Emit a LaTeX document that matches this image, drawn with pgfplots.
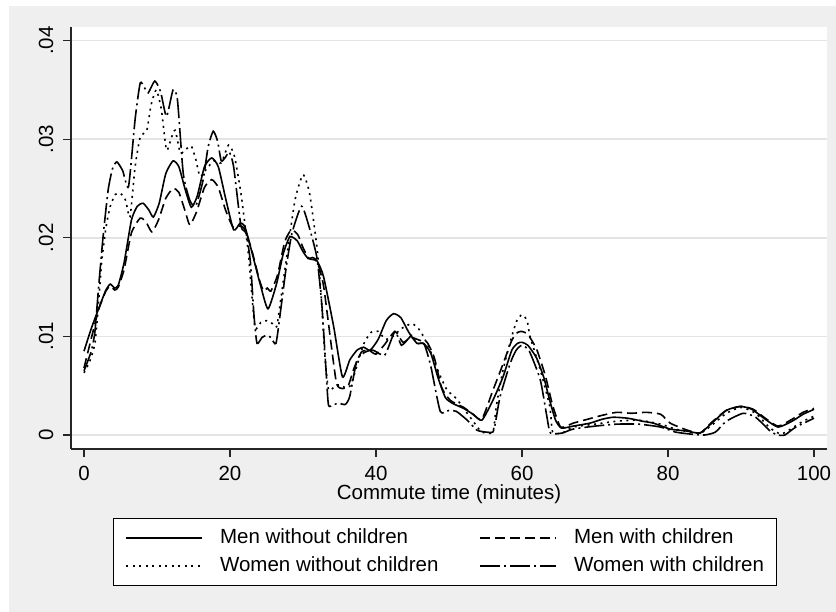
\documentclass[border=0pt]{standalone}
\usepackage{fontspec}
\setmainfont{Liberation Sans}
\usepackage{pgfplots}
\usepackage{pgfplotstable}
\pgfplotsset{compat=1.18}
\definecolor{bggray}{RGB}{239,239,239}
\definecolor{gridgray}{RGB}{228,228,228}

\pgfplotstableread{
x y
0 .0085
1 .0108
2 .0128
3 .0147
3.6 .0153
4.2 .0149
4.7 .0152
5.5 .0175
6.5 .0218
7.3 .0232
8.1 .0235
8.9 .0228
9.5 .0221
10.3 .0235
11.2 .0265
12.2 .0278
13.0 .0272
13.9 .0248
14.7 .0231
15.5 .0242
16.5 .0272
17.5 .0281
18.4 .0272
19.4 .0240
20.5 .0208
21.4 .0215
22.0 .0212
22.7 .0194
24.1 .0154
25.2 .0128
26.4 .0154
27.3 .0184
28.2 .0201
29.2 .0197
30.0 .0186
30.7 .0179
31.3 .0180
31.9 .0177
32.8 .0161
34.2 .0110
35.4 .0059
36.4 .0076
37.4 .0086
38.3 .0089
39.2 .0086
40.3 .0097
41.4 .0116
42.4 .0123
43.4 .0119
44.5 .0104
45.6 .0093
46.5 .0093
47.5 .0083
48.5 .0058
49.5 .0038
50.5 .0032
52.0 .0027
53.3 .0021
54.5 .0015
56.0 .0035
57.4 .0059
58.6 .0086
59.4 .0093
60.0 .0094
60.8 .0091
62.0 .0078
63.0 .0058
63.8 .0035
64.6 .0015
65.4 .0007
67.0 .0009
69.3 .0012
71.0 .0016
72.5 .0018
74.5 .0017
76.5 .0014
78.0 .0012
80.3 .0006
82.6 .0004
84.4 .0002
86.0 .0012
88.0 .0025
89.9 .0029
91.5 .0026
93.5 .0015
95.1 .0008
97.0 .0014
98.5 .0021
100 .0026
}\menno

\pgfplotstableread{
x y
0 .0068
1 .0098
2 .0127
3 .0146
3.6 .0151
4.2 .0147
4.7 .0150
5.5 .0168
6.5 .0205
7.7 .0220
8.5 .0216
9.3 .0206
10.2 .0218
11.2 .0240
12.2 .0250
13.0 .0246
13.9 .0226
14.5 .0213
15.4 .0226
16.5 .0251
17.5 .0259
18.4 .0251
19.4 .0228
20.4 .0211
21.4 .0212
22.0 .0209
23.0 .0187
24.0 .0158
24.6 .0146
25.1 .0149
25.6 .0146
26.5 .0162
27.5 .0196
28.4 .0208
29.3 .0203
30.0 .0190
30.8 .0179
31.9 .0176
32.8 .0152
33.8 .0095
34.6 .0052
35.4 .0047
36.2 .0050
37.0 .0068
38.0 .0084
39.0 .0086
40.0 .0082
41.2 .0092
42.6 .0105
43.7 .0094
44.8 .0099
46.0 .0096
47.0 .0094
48.0 .0078
49.0 .0048
50.2 .0035
52.0 .0028
53.3 .0021
54.5 .0016
56.0 .0045
57.4 .0072
58.6 .0096
59.4 .0104
60.0 .0105
60.8 .0102
62.0 .0087
63.2 .0060
64.2 .0030
65.3 .0008
67.0 .0012
69.0 .0016
71.0 .0020
73.0 .0023
75.0 .0022
77.0 .0023
79.0 .0021
80.3 .0012
82.6 .0005
84.4 .0002
86.0 .0013
88.0 .0025
90.0 .0029
91.7 .0026
93.5 .0016
95.1 .0009
97.0 .0016
98.5 .0023
100 .0027
}\menwith

\pgfplotstableread{
x y
0 .0063
0.8 .0075
1.5 .0093
2.0 .0134
2.4 .0174
3.0 .0210
3.6 .0232
4.3 .0244
5.0 .0245
5.7 .0238
6.3 .0221
7.0 .0272
7.7 .0302
8.6 .0309
9.2 .0335
9.9 .0350
10.6 .0330
11.3 .0289
12.0 .0302
12.5 .0309
13.2 .0286
14.0 .0290
14.7 .0293
15.3 .0280
15.9 .0262
16.8 .0270
17.8 .0278
18.8 .0276
19.8 .0294
20.6 .0283
21.5 .0245
22.5 .0185
23.4 .0110
24.2 .0114
25.0 .0116
25.8 .0113
26.4 .0110
27.0 .0140
27.7 .0177
28.9 .0238
30.0 .0264
30.9 .0245
31.9 .0191
32.5 .0140
33.0 .0080
33.5 .0046
34.3 .0049
35.0 .0051
35.8 .0048
36.5 .0050
37.3 .0068
38.3 .0092
39.3 .0104
40.3 .0105
41.3 .0097
42.3 .0100
43.5 .0108
44.9 .0113
45.8 .0108
46.5 .0100
47.4 .0086
48.5 .0065
49.7 .0046
51.0 .0037
52.5 .0022
53.8 .0009
54.5 .0003
56.0 .0003
56.5 .0030
57.4 .0066
58.6 .0100
59.3 .0116
60.0 .0122
60.7 .0116
61.1 .0100
62.5 .0066
63.8 .0029
64.2 .0003
65.5 .0002
67.0 .0008
70.0 .0011
73.0 .0014
76.0 .0015
79.0 .0011
81.0 .0006
83.0 .0003
84.5 .0002
86.0 .0010
88.0 .0022
90.0 .0028
92.0 .0022
94.0 .0007
95.5 .0001
97.0 .0007
98.5 .0014
100 .0019
}\womenno

\pgfplotstableread{
x y
0 .0065
1 .0085
1.5 .0105
2.0 .0150
2.6 .0200
3.3 .0248
3.9 .0270
4.5 .0277
5.3 .0268
6.1 .0252
7.0 .0320
7.7 .0357
8.3 .0352
8.8 .0347
9.7 .0359
10.5 .0348
11.3 .0323
12.2 .0350
12.8 .0340
13.6 .0265
14.5 .0238
15.3 .0232
16.3 .0258
17.0 .0292
17.7 .0308
18.3 .0298
18.8 .0278
19.4 .0282
19.9 .0287
20.5 .0272
21.5 .0212
22.2 .0205
22.8 .0175
23.3 .0120
23.7 .0093
24.4 .0099
25.0 .0101
25.6 .0099
26.3 .0093
27.0 .0130
27.7 .0170
28.5 .0205
29.8 .0232
30.8 .0212
31.9 .0180
32.6 .0130
33.2 .0060
33.5 .0030
34.2 .0031
35.0 .0032
35.8 .0031
36.4 .0039
37.4 .0076
38.5 .0084
39.6 .0086
41.2 .0081
42.6 .0105
43.5 .0091
44.9 .0101
45.6 .0093
46.6 .0092
47.5 .0070
48.8 .0024
50.0 .0025
51.0 .0024
52.5 .0015
53.8 .0005
55.0 .0003
56.0 .0003
56.3 .0010
57.0 .0039
58.4 .0073
59.2 .0086
60.0 .0091
61.0 .0085
62.5 .0056
63.4 .0019
63.9 .0002
65.5 .0002
67.0 .0006
70.0 .0009
73.0 .0011
76.0 .0011
79.0 .0008
81.0 .0003
83.0 .0001
85.0 .0000
86.5 .0003
88.0 .0014
90.3 .0022
92.0 .0018
94.0 .0004
95.0 .0000
96.0 .0000
97.5 .0008
100 .0017
}\womenwith

\begin{document}
\begin{tikzpicture}[x=1bp,y=1bp]
\path[use as bounding box] (0,0) rectangle (836,612);
\fill[bggray] (9,0) rectangle (836,606);
\begin{axis}[
  at={(71bp,163bp)}, anchor=south west,
  scale only axis, width=756bp, height=422bp,
  xmin=-1.78, xmax=101.78, ymin=-0.00142, ymax=0.04138,
  axis background/.style={fill=white},
  axis x line*=bottom, axis y line*=left,
  axis line style={line width=1.2bp, black!85, -},
  tick align=outside, major tick length=8bp,
  tick style={line width=1.2bp, black!85},
  xtick={0,20,40,60,80,100},
  ytick={0,0.01,0.02,0.03,0.04},
  yticklabels={0,.01,.02,.03,.04},
  scaled y ticks=false,
  /pgf/number format/assume math mode=true,
  ticklabel style={font=\fontsize{20.5bp}{24bp}\selectfont, inner sep=0pt},
  xticklabel style={anchor=north},
  xticklabel shift=9bp,
  yticklabel style={rotate=90, anchor=base},
  yticklabel shift=10bp,
  ymajorgrids,
  grid style={gridgray, line width=1.5bp},
  xlabel={Commute time (minutes)},
  xlabel style={at={(axis description cs:0.5,-0.1195)}, anchor=base, inner sep=0pt,
    font=\fontsize{20.5bp}{25bp}\selectfont},
  legend columns=2,
  legend cell align=left,
  legend image code/.code={\draw[#1] (0bp,0bp) -- (76bp,0bp);},
  legend style={at={(axis description cs:0.0556,-0.1635)}, anchor=north west,
    draw=black, line width=0.9bp, fill=white,
    font=\fontsize{20.5bp}{25bp}\selectfont,
    inner xsep=12bp, inner ysep=10bp,
    nodes={inner sep=0pt, text height=15bp, text depth=4bp},
    row sep=9bp,
    /tikz/every odd column/.append style={column sep=17bp},
    /tikz/every even column/.append style={column sep=41bp}},
  every axis plot/.append style={line width=1.6bp, black, smooth, tension=0.35},
]
\addplot[solid] table[x=x,y=y] {\menno};
\addlegendentry{Men without children}
\addplot[dash pattern=on 10bp off 5bp] table[x=x,y=y] {\menwith};
\addlegendentry{Men with children}
\addplot[dash pattern=on 2bp off 4.5bp] table[x=x,y=y] {\womenno};
\addlegendentry{Women without children}
\addplot[dash pattern=on 20bp off 4bp on 2bp off 4bp] table[x=x,y=y] {\womenwith};
\addlegendentry{Women with children}
\end{axis}
\end{tikzpicture}
\end{document}
